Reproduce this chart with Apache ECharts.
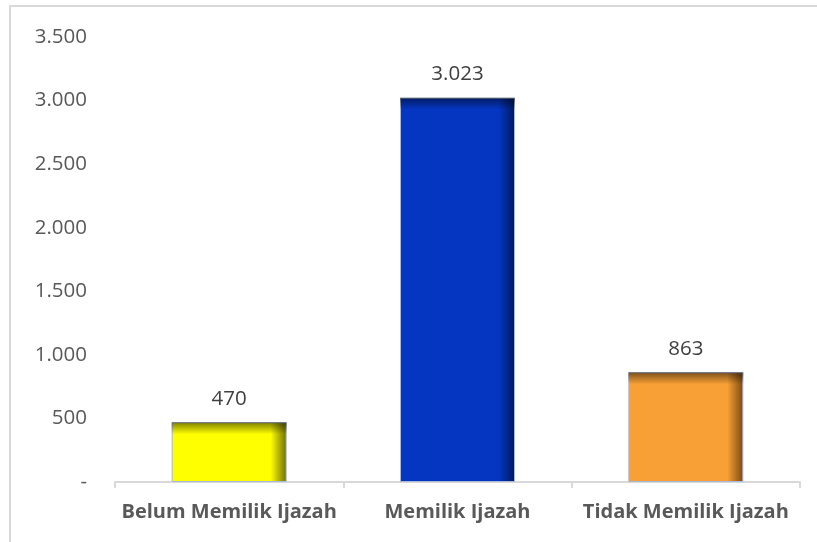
<!DOCTYPE html>
<html>
<head>
<meta charset="utf-8">
<script src="https://cdn.jsdelivr.net/npm/echarts@6/dist/echarts.min.js"></script>
<style>
  html, body { margin: 0; padding: 0; background: #fff; }
  #chart { width: 817px; height: 542px; }
</style>
</head>
<body>
<div id="chart"></div>
<script>
// categories and counts
const categories = ['Belum Memilik Ijazah', 'Memilik Ijazah', 'Tidak Memilik Ijazah'];
const values = [470, 3023, 863];
const baseColors = ['#FFFF00', '#0436C2', '#F8A035'];
const edgeColors = ['#6E6E00', '#01185A', '#7A4A10'];

const yMax = 3500;
const plotHeight = 445; // px between 0 and yMax, used for the top shade only

// thousands separator as a dot, zero as a dash
const fmt = v => (v === 0 ? '-' : String(v).replace(/\B(?=(\d{3})+(?!\d))/g, '.'));

const chart = echarts.init(document.getElementById('chart'));

const mainData = values.map((v, i) => ({
  value: v,
  itemStyle: {
    color: {
      type: 'linear', x: 0, y: 0, x2: 1, y2: 0,
      colorStops: [
        { offset: 0, color: baseColors[i] },
        { offset: 0.86, color: baseColors[i] },
        { offset: 1, color: edgeColors[i] },
      ],
    },
  },
}));

// overlay with a dark shade on the top few pixels of each bar
const shadeData = values.map(v => {
  const f = Math.min(0.5, 12 / (v / yMax * plotHeight));
  return {
    value: v,
    itemStyle: {
      color: {
        type: 'linear', x: 0, y: 0, x2: 0, y2: 1,
        colorStops: [
          { offset: 0, color: 'rgba(0,0,0,0.5)' },
          { offset: f, color: 'rgba(0,0,0,0)' },
          { offset: 1, color: 'rgba(0,0,0,0)' },
        ],
      },
    },
  };
});

const option = {
  animation: false,
  textStyle: { fontFamily: 'Open Sans' },
  graphic: [{
    type: 'rect',
    shape: { x: 10, y: 6, width: 830, height: 560 },
    style: { fill: 'none', stroke: '#D9D9D9', lineWidth: 2 },
    silent: true,
  }],
  grid: { left: 115, right: 17, top: 37, bottom: 60, containLabel: false },
  xAxis: {
    type: 'category',
    data: categories,
    axisLine: { lineStyle: { color: '#D9D9D9', width: 2 } },
    axisTick: { show: true, length: 6, lineStyle: { color: '#D9D9D9', width: 2 } },
    axisLabel: { color: '#595959', fontSize: 20, fontWeight: 'bold', margin: 20, interval: 0 },
  },
  yAxis: {
    type: 'value',
    min: 0,
    max: yMax,
    interval: 500,
    axisLine: { show: false },
    axisTick: { show: false },
    splitLine: { show: false },
    axisLabel: { color: '#595959', fontSize: 20.5, margin: 28, formatter: fmt },
  },
  series: [
    {
      type: 'bar',
      data: mainData,
      barWidth: 115,
      itemStyle: { borderColor: '#A9B8D6', borderWidth: 1 },
      label: {
        show: true,
        position: 'top',
        distance: 13,
        color: '#404040',
        fontSize: 20.5,
        formatter: p => fmt(p.value),
      },
    },
    {
      type: 'bar',
      data: shadeData,
      barWidth: 115,
      barGap: '-100%',
      silent: true,
    },
  ],
};

chart.setOption(option);
</script>
</body>
</html>
